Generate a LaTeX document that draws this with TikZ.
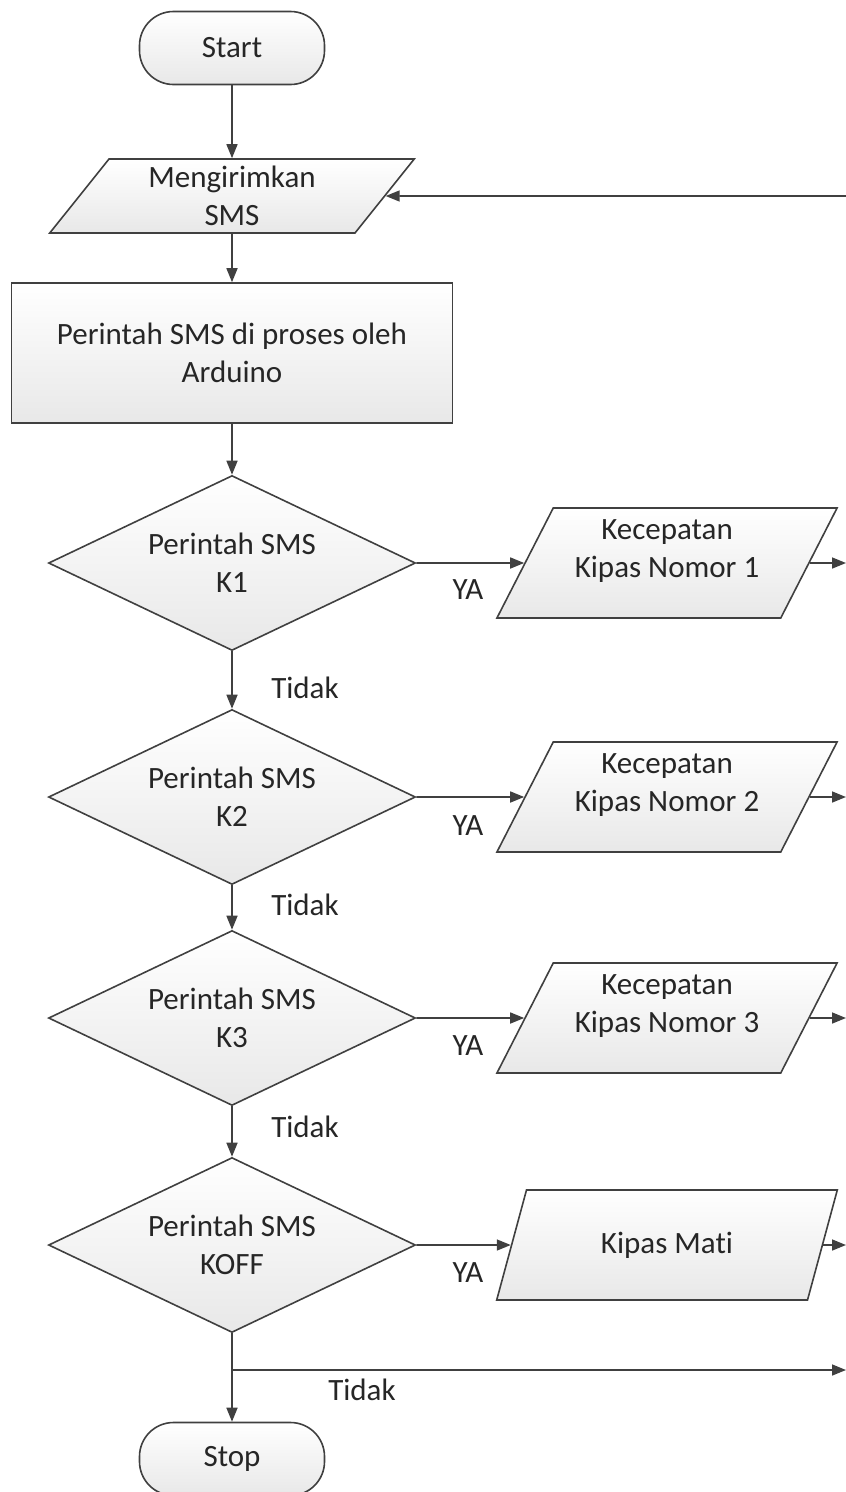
\documentclass[tikz,border=0pt]{standalone}
\usepackage{fontspec}
\setmainfont{Carlito}[Ligatures=NoCommon]
\usetikzlibrary{arrows.meta}
\usetikzlibrary{shapes.geometric}
\definecolor{dgrey}{RGB}{64,64,64}
\definecolor{lgrey}{RGB}{232,232,232}

\begin{document}
\begin{tikzpicture}[x=1pt,y=-1pt,>={Triangle[length=14pt,width=11pt]},line width=1.6pt,font=\fontsize{31}{38}\selectfont]
  \tikzstyle{box}=[draw=dgrey,top color=white,bottom color=lgrey,text=black!85,align=center,inner sep=0pt]
  \tikzstyle{term}=[box,rectangle,rounded corners=34pt,minimum width=185pt,minimum height=73pt]
  \tikzstyle{proc}=[box,rectangle,minimum width=441pt,minimum height=140pt]
  \tikzstyle{cond}=[box,diamond,aspect=2.1,minimum width=367pt,minimum height=175pt]
  \tikzstyle{io}=[box,trapezium,trapezium stretches=true,trapezium left angle=62,trapezium right angle=118,minimum width=341pt,minimum height=110pt]
  \tikzstyle{lbl}=[text=black!85,inner sep=0pt]
  \tikzstyle{line}=[draw=dgrey]
  \useasboundingbox (0,0) rectangle (846,1492);
  \clip (0,0) rectangle (846,1492);
  % main column
  \node [term] (start) at (232,48) {Start};
  \node [io,trapezium left angle=56,trapezium right angle=124,minimum width=365pt,minimum height=74pt] (send) at (232,196) {Mengirimkan\\SMS};
  \node [proc] (arduino) at (232,353) {Perintah SMS di proses oleh\\Arduino};
  \node [cond] (k1) at (232,563) {Perintah SMS\\K1};
  \node [cond] (k2) at (232,797) {Perintah SMS\\K2};
  \node [cond] (k3) at (232,1018) {Perintah SMS\\K3};
  \node [cond] (koff) at (232,1245) {Perintah SMS\\KOFF};
  \node [term] (stop) at (232,1459) {Stop};
  % right column
  \node [io] (fan1) at (667,563) {Kecepatan\\Kipas Nomor 1\\[-10pt]\mbox{}};
  \node [io] (fan2) at (667,797) {Kecepatan\\Kipas Nomor 2\\[-10pt]\mbox{}};
  \node [io] (fan3) at (667,1018) {Kecepatan\\Kipas Nomor 3\\[-10pt]\mbox{}};
  \node [io] (fanoff) at (667,1245) {Kipas Mati};
  % free ends at the right border
  \coordinate (back) at (846,196);
  \coordinate (end1) at (846,563);
  \coordinate (end2) at (846,797);
  \coordinate (end3) at (846,1018);
  \coordinate (end4) at (846,1245);
  \coordinate (split) at (232,1370);
  \coordinate (end5) at (846,1370);
  % connectors
  \draw [line,->] (start) -- (send);
  \draw [line,->] (send) -- (arduino);
  \draw [line,->] (arduino) -- (k1);
  \draw [line,->] (k1) -- (k2);
  \draw [line,->] (k2) -- (k3);
  \draw [line,->] (k3) -- (koff);
  \draw [line,->] (koff) -- (stop);
  \draw [line,->] (back) -- (send.east);
  \draw [line,->] (k1.east) -- (fan1.west);
  \draw [line,->] (k2.east) -- (fan2.west);
  \draw [line,->] (k3.east) -- (fan3.west);
  \draw [line,->] (koff.east) -- (fanoff.west);
  \draw [line,->] (fan1.east) -- (end1);
  \draw [line,->] (fan2.east) -- (end2);
  \draw [line,->] (fan3.east) -- (end3);
  \draw [line,->] (fanoff.east) -- (end4);
  \draw [line,->] (split) -- (end5);
  % labels
  \node [lbl] (ya1) at (468,590) {YA};
  \node [lbl] (ya2) at (468,826) {YA};
  \node [lbl] (ya3) at (468,1046) {YA};
  \node [lbl] (ya4) at (468,1273) {YA};
  \node [lbl] (no1) at (305,688) {Tidak};
  \node [lbl] (no2) at (305,905) {Tidak};
  \node [lbl] (no3) at (305,1127) {Tidak};
  \node [lbl] (no4) at (362,1390) {Tidak};
\end{tikzpicture}
\end{document}
